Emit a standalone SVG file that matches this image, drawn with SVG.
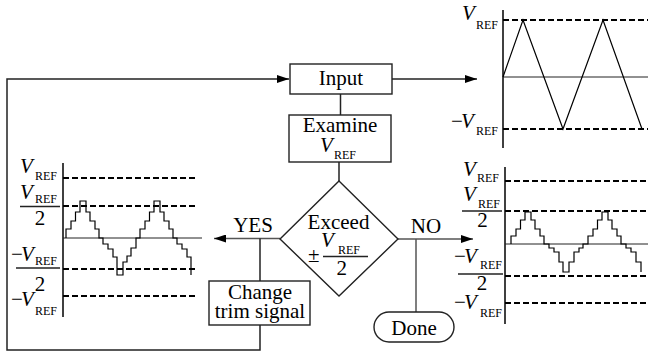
<svg xmlns="http://www.w3.org/2000/svg" width="648" height="357" viewBox="0 0 648 357" font-family="'Liberation Serif', 'Times New Roman', 'DejaVu Serif', serif">
<style>
text{font-family:'Liberation Serif','Times New Roman','DejaVu Serif',serif;fill:#000;font-size:21px}
.m{text-anchor:middle}
.i{font-style:italic}
.s{font-size:12px;font-style:normal}
.box{fill:#fff;stroke:#222;stroke-width:1.4}
.w{fill:none;stroke:#222;stroke-width:1.5}
.wg{fill:none;stroke:#555;stroke-width:1.5}
.d{fill:none;stroke:#000;stroke-width:2;stroke-dasharray:6 3}
.z{fill:none;stroke:#222;stroke-width:1}
.bar{fill:none;stroke:#222;stroke-width:1.3}
.ax{fill:none;stroke:#000;stroke-width:1.5}
.sig{fill:none;stroke:#000;stroke-width:1.2}
</style>
<defs>
<marker id="arr" viewBox="0 0 12 8" refX="12" refY="4" markerWidth="12" markerHeight="8" orient="auto" markerUnits="userSpaceOnUse">
<path d="M0,0 L12,4 L0,8 z" fill="#000"/>
</marker>
</defs>

<g id="connectors">
<polyline class="w" points="260,325 260,350 7,350 7,79 289,79" marker-end="url(#arr)"/>
<line class="w" x1="392" y1="79" x2="477" y2="79" marker-end="url(#arr)"/>
<line class="w" x1="340.5" y1="94" x2="340.5" y2="115"/>
<line class="w" x1="339" y1="162" x2="339" y2="181"/>
<line class="wg" x1="280" y1="238.5" x2="214" y2="238.5" marker-end="url(#arr)"/>
<line class="w" x1="260" y1="238.5" x2="260" y2="281"/>
<line class="wg" x1="398" y1="239" x2="473" y2="239" marker-end="url(#arr)"/>
<line class="wg" x1="416" y1="239" x2="416" y2="312"/>
<text class="m" x="253" y="232">YES</text>
<text class="m" x="426" y="233">NO</text>
</g>

<g id="input">
<rect class="box" x="290" y="64" width="102" height="30"/>
<text class="m" x="341" y="85">Input</text>
</g>

<g id="examine">
<rect class="box" x="289" y="115" width="102" height="47"/>
<text x="340" y="132"><tspan class="m" x="340" y="132" text-anchor="middle">Examine</tspan><tspan class="i" x="320" y="152">V</tspan><tspan class="s" x="334" y="159">REF</tspan></text>
</g>

<g id="exceed">
<polygon class="box" points="339,181 398,239 339,296 280,239"/>
<text x="338.5" y="229"><tspan x="338.5" y="229" text-anchor="middle">Exceed</tspan><tspan class="i" x="321" y="247">V</tspan><tspan class="s" x="338" y="254">REF</tspan><tspan x="308" y="262">±</tspan><tspan x="336.5" y="275">2</tspan></text>
<line class="bar" x1="323" y1="256.5" x2="368" y2="256.5"/>
</g>

<g id="change">
<rect class="box" x="209" y="281" width="101" height="44"/>
<text class="m" x="260" y="299"><tspan x="260" y="299">Change</tspan><tspan x="260" y="318">trim signal</tspan></text>
</g>

<g id="done">
<rect class="box" x="374" y="312" width="80" height="30" rx="15" ry="15"/>
<text class="m" x="414" y="335">Done</text>
</g>

<g id="chart-input">
<line class="ax" x1="503" y1="10" x2="503" y2="148"/>
<line class="d" x1="503" y1="20" x2="648" y2="20"/>
<line class="d" x1="503" y1="129" x2="648" y2="129"/>
<line class="z" x1="503" y1="77" x2="648" y2="77"/>
<polyline class="sig" points="503,77 523,20 563,129 603,20 642,129"/>
<text class="i" x="462" y="20">V<tspan class="s" x="476" y="29">REF</tspan></text>
<text x="451" y="128">−<tspan class="i" x="461" y="128">V</tspan><tspan class="s" x="476" y="135">REF</tspan></text>
</g>

<g id="chart-yes">
<line class="ax" x1="63" y1="163" x2="63" y2="317"/>
<line class="d" x1="63" y1="178" x2="198" y2="178"/>
<line class="d" x1="63" y1="206" x2="198" y2="206"/>
<line class="d" x1="63" y1="269" x2="198" y2="269"/>
<line class="d" x1="63" y1="296" x2="198" y2="296"/>
<line class="z" x1="63" y1="238" x2="202" y2="238"/>
<polyline class="sig" points="66,238 66,229 71,229 71,221 75.5,221 75.5,212 80,212 80,201 86,201 86,212 90,212 90,221 95,221 95,229 99,229 99,238 103,238 103,244 108,244 108,249 113,249 113,257 117,257 117,275 123,275 123,262 127,262 127,256 131,256 131,248 136,248 136,238 140,238 140,229 145,229 145,221 149.5,221 149.5,212 154,212 154,201 160,201 160,212 164,212 164,221 169,221 169,229 173,229 173,238 177,238 177,244 182,244 182,249 187,249 187,257 191,257 191,275"/>
<text class="i" x="20" y="173">V<tspan class="s" x="35" y="180">REF</tspan></text>
<text class="i" x="20" y="199">V<tspan class="s" x="35" y="203">REF</tspan><tspan style="font-style:normal" x="34.7" y="225">2</tspan></text>
<line class="bar" x1="20" y1="206.5" x2="60" y2="206.5"/>
<text x="11" y="261">−<tspan class="i" x="21" y="261">V</tspan><tspan class="s" x="35" y="265">REF</tspan><tspan x="34.7" y="291">2</tspan></text>
<line class="bar" x1="16" y1="268" x2="60" y2="268"/>
<text x="11" y="306">−<tspan class="i" x="21" y="306">V</tspan><tspan class="s" x="35" y="315">REF</tspan></text>
</g>

<g id="chart-no">
<line class="ax" x1="505" y1="167" x2="505" y2="324" stroke="#777"/>
<line class="d" x1="505" y1="181" x2="648" y2="181"/>
<line class="d" x1="505" y1="211" x2="648" y2="211"/>
<line class="d" x1="505" y1="276" x2="648" y2="276"/>
<line class="d" x1="505" y1="303" x2="648" y2="303"/>
<line class="z" x1="505" y1="244" x2="648" y2="244"/>
<polyline class="sig" points="511,244 511,236 516,236 516,229 520.5,229 520.5,220 525,220 525,212 531,212 531,220 535,220 535,229 540,229 540,236 544,236 544,244 549,244 549,248 554,248 554,252 559,252 559,262 563,262 563,272 569,272 569,262 574,262 574,252 579,252 579,248 583,248 583,244 588,244 588,236 593,236 593,229 597.5,229 597.5,220 602,220 602,212 608,212 608,220 612,220 612,229 617,229 617,236 621,236 621,244 626,244 626,248 631,248 631,252 636,252 636,262 641,262 641,272"/>
<text class="i" x="463" y="176">V<tspan class="s" x="477" y="182">REF</tspan></text>
<text class="i" x="463" y="201">V<tspan class="s" x="478" y="208">REF</tspan><tspan style="font-style:normal" x="477.2" y="227">2</tspan></text>
<line class="bar" x1="462" y1="211" x2="502" y2="211"/>
<text x="454" y="263">−<tspan class="i" x="464" y="263">V</tspan><tspan class="s" x="480" y="269">REF</tspan><tspan x="476.7" y="290">2</tspan></text>
<line class="bar" x1="458" y1="274" x2="503" y2="274"/>
<text x="454" y="309">−<tspan class="i" x="464" y="309">V</tspan><tspan class="s" x="480" y="317">REF</tspan></text>
</g>
</svg>
